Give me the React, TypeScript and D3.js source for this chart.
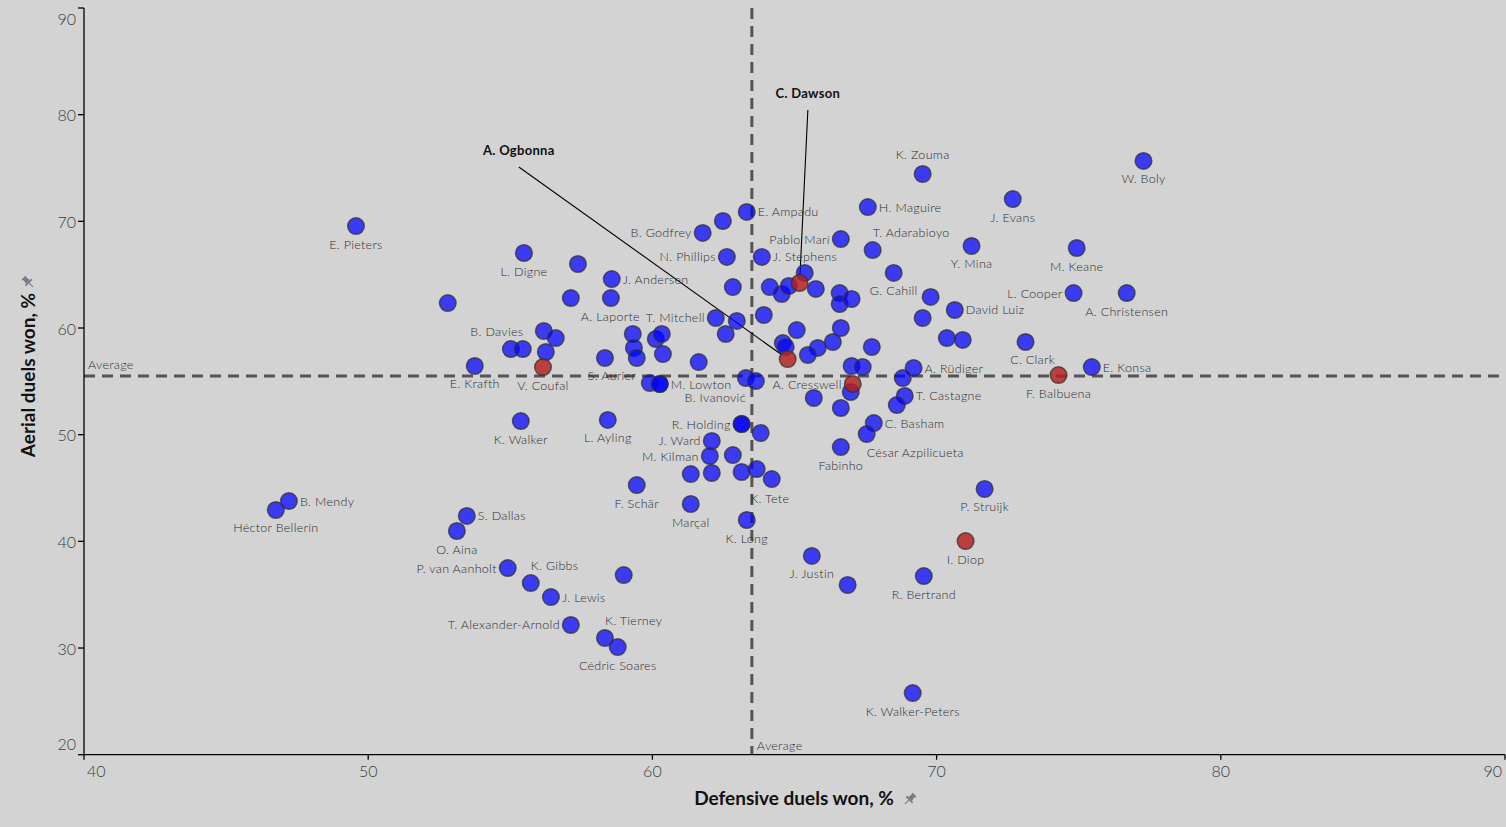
import React from "react";
import * as d3 from "d3";

// ---------- DATA ----------
const players: string[] = [
  "W. Boly", "K. Zouma", "J. Evans", "H. Maguire", "E. Pieters", "E. Ampadu", "", "B. Godfrey", "Pablo Marí", "T. Adarabioyo",
  "J. Stephens", "N. Phillips", "L. Digne", "Y. Mina", "M. Keane", "", "J. Andersen", "", "", "",
  "", "", "", "C. Dawson", "", "", "", "", "G. Cahill", "L. Cooper",
  "A. Christensen", "David Luiz", "", "", "", "", "", "T. Mitchell", "", "",
  "A. Laporte", "", "", "", "", "", "", "S. Aurier", "", "",
  "", "B. Davies", "", "V. Coufal", "E. Krafth", "", "", "", "", "",
  "", "", "A. Ogbonna", "", "", "", "C. Clark", "A. Rüdiger", "", "A. Cresswell",
  "", "", "", "T. Castagne", "", "C. Basham", "César Azpilicueta", "Fabinho", "F. Balbuena", "E. Konsa",
  "", "M. Lowton", "B. Ivanović", "", "R. Holding", "", "J. Ward", "M. Kilman", "", "",
  "", "", "", "K. Tete", "K. Long", "Marçal", "F. Schär", "L. Ayling", "K. Walker", "Héctor Bellerín",
  "B. Mendy", "S. Dallas", "O. Aina", "P. van Aanholt", "K. Gibbs", "J. Lewis", "", "T. Alexander-Arnold", "K. Tierney", "Cédric Soares",
  "P. Struijk", "I. Diop", "J. Justin", "", "R. Bertrand", "K. Walker-Peters", "", "", "", "",
];

const defensiveDuelsWon: number[] = [
  77.28, 69.51, 72.68, 67.58, 49.57, 63.32, 62.48, 61.77, 66.63, 67.75,
  63.85, 62.62, 55.48, 71.23, 74.93, 57.38, 58.57, 68.49, 62.83, 64.13,
  64.55, 64.80, 65.36, 65.18, 65.75, 66.59, 66.59, 67.01, 69.79, 74.82,
  76.69, 70.64, 69.51, 57.13, 58.54, 52.80, 63.92, 62.23, 62.97, 62.58,
  59.31, 59.35, 59.45, 60.12, 60.33, 60.37, 61.63, 58.33, 56.18, 56.60,
  56.25, 55.02, 55.44, 56.15, 53.75, 65.08, 66.63, 66.35, 65.82, 65.47,
  64.59, 64.69, 64.76, 67.01, 67.40, 67.72, 73.13, 69.19, 68.81, 67.05,
  66.98, 65.68, 66.63, 68.88, 68.60, 67.79, 67.54, 66.63, 74.29, 75.46,
  59.91, 60.26, 63.29, 63.64, 63.14, 63.81, 62.09, 62.02, 62.83, 61.35,
  62.09, 63.14, 63.67, 64.20, 63.32, 61.35, 59.45, 58.43, 55.37, 46.75,
  47.21, 53.47, 53.12, 54.91, 55.72, 56.43, 58.99, 57.13, 58.33, 58.78,
  71.69, 71.02, 65.61, 66.87, 69.55, 69.16, 70.36, 70.92, 60.26, 63.14,
];

const aerialDuelsWon: number[] = [
  75.66, 74.44, 72.09, 71.34, 69.56, 70.88, 70.03, 68.91, 68.34, 67.31,
  66.66, 66.66, 67.03, 67.69, 67.50, 66.00, 64.59, 65.16, 63.84, 63.84,
  63.19, 63.94, 65.16, 64.22, 63.66, 63.28, 62.25, 62.72, 62.91, 63.28,
  63.28, 61.69, 60.94, 62.81, 62.81, 62.34, 61.22, 60.94, 60.66, 59.44,
  59.44, 58.13, 57.19, 58.97, 59.44, 57.56, 56.81, 57.19, 59.72, 59.06,
  57.75, 58.03, 58.03, 56.34, 56.44, 59.81, 60.00, 58.69, 58.13, 57.47,
  58.59, 58.22, 57.09, 56.44, 56.34, 58.22, 58.69, 56.25, 55.31, 54.75,
  54.00, 53.44, 52.50, 53.63, 52.78, 51.09, 50.06, 48.84, 55.59, 56.34,
  54.84, 54.75, 55.31, 55.03, 51.00, 50.16, 49.41, 48.00, 48.09, 46.31,
  46.41, 46.50, 46.78, 45.84, 42.00, 43.50, 45.28, 51.38, 51.28, 42.94,
  43.78, 42.38, 40.97, 37.50, 36.09, 34.78, 36.84, 32.16, 30.94, 30.09,
  44.91, 40.03, 38.63, 35.91, 36.75, 25.78, 59.06, 58.88, 54.75, 51.00,
];

const highlighted: string[] = ["C. Dawson", "A. Ogbonna", "V. Coufal", "A. Cresswell", "F. Balbuena", "I. Diop"];
const callouts: string[] = ["C. Dawson", "A. Ogbonna"];
const calloutLabelX: number[] = [65.47, 55.3];
const calloutLabelY: number[] = [82.03, 76.69];

const xTicks: number[] = [40, 50, 60, 70, 80, 90];
const yTicks: number[] = [20, 30, 40, 50, 60, 70, 80, 90];
const avgDefensive = 63.5;
const avgAerial = 55.5;
const xTitle = "Defensive duels won, %";
const yTitle = "Aerial duels won, %";

// label placement (layout only): r=right, l=left, b=below, t=above, or [anchor, dx, dy]
type Place = string | [string, number, number];
const labelPlace: Record<string, Place> = {
  "W. Boly": "b", "K. Zouma": "t", "J. Evans": "b", "H. Maguire": "r", "E. Pieters": "b",
  "E. Ampadu": "r", "B. Godfrey": "l", "Pablo Marí": "l", "T. Adarabioyo": ["start", 0, -18],
  "J. Stephens": "r", "N. Phillips": "l", "L. Digne": "b", "Y. Mina": "b", "M. Keane": "b",
  "J. Andersen": "r", "G. Cahill": ["end", -13, -6], "L. Cooper": "l", "A. Christensen": "b",
  "David Luiz": "r", "T. Mitchell": "l", "A. Laporte": ["end", 7, -17], "S. Aurier": ["middle", 7, 18],
  "B. Davies": ["middle", -14, -18], "V. Coufal": "b", "E. Krafth": "b", "C. Clark": ["middle", 7, 18],
  "A. Rüdiger": "r", "A. Cresswell": "l", "T. Castagne": "r", "C. Basham": "r",
  "César Azpilicueta": ["start", 0, 18], "Fabinho": "b", "F. Balbuena": "b", "E. Konsa": "r",
  "M. Lowton": "r", "B. Ivanović": ["end", 0, 19], "R. Holding": "l", "J. Ward": "l", "M. Kilman": "l",
  "K. Tete": ["middle", -2, 19], "K. Long": "b", "Marçal": "b", "F. Schär": "b", "L. Ayling": "b",
  "K. Walker": "b", "Héctor Bellerín": "b", "B. Mendy": "r", "S. Dallas": "r", "O. Aina": "b",
  "P. van Aanholt": "l", "K. Gibbs": ["start", 0, -18], "J. Lewis": "r", "T. Alexander-Arnold": "l",
  "K. Tierney": ["start", 0, -18], "Cédric Soares": "b", "P. Struijk": "b", "I. Diop": "b",
  "J. Justin": "b", "R. Bertrand": "b", "K. Walker-Peters": "b",
};

// ---------- LAYOUT ----------
const W = 1506;
const H = 827;
const FONT = "Lato, 'DejaVu Sans', sans-serif";
const x = d3.scaleLinear().domain([40, 90]).range([84, 1505]);
const y = d3.scaleLinear().domain([20, 90]).range([754.7, 8]);
const R = 8.3;

function Pin({ cx, cy, rot = 45 }: { cx: number; cy: number; rot?: number }) {
  return (
    <g transform={`translate(${cx},${cy}) rotate(${rot}) scale(0.9)`} fill="#737a85">
      <rect x={-3} y={-7} width={6} height={2} />
      <polygon points="-2,-5 2,-5 3,0 -3,0" />
      <rect x={-5} y={0} width={10} height={1.8} />
      <rect x={-0.6} y={1.8} width={1.2} height={6} />
    </g>
  );
}

export default function App() {
  const pts = players.map((name, i) => ({
    name,
    dx: defensiveDuelsWon[i],
    ay: aerialDuelsWon[i],
    red: highlighted.includes(name),
  }));
  const ordered = [...pts.filter((p) => !p.red), ...pts.filter((p) => p.red)];

  const labels = pts
    .filter((p) => p.name && labelPlace[p.name])
    .map((p) => {
      const px = x(p.dx);
      const py = y(p.ay);
      const pl = labelPlace[p.name];
      let anchor = "middle";
      let lx = px;
      let ly = py;
      if (pl === "r") { anchor = "start"; lx = px + 11; ly = py; }
      else if (pl === "l") { anchor = "end"; lx = px - 11; ly = py; }
      else if (pl === "b") { lx = px; ly = py + 18; }
      else if (pl === "t") { lx = px; ly = py - 19; }
      else if (Array.isArray(pl)) { anchor = pl[0]; lx = px + pl[1]; ly = py + pl[2]; }
      return { name: p.name, lx, ly, anchor };
    });

  const dash = "11,7";

  return (
    <svg
      width={W}
      height={H}
      style={{ position: "absolute", left: 0, top: 0, display: "block", background: "#d3d3d3" }}
      fontFamily={FONT}
    >
      <rect x={0} y={0} width={W} height={H} fill="#d3d3d3" />

      {/* average lines */}
      <line x1={x(40)} x2={x(90)} y1={y(avgAerial)} y2={y(avgAerial)} stroke="#555" strokeWidth={3} strokeDasharray={dash} />
      <line x1={x(avgDefensive)} x2={x(avgDefensive)} y1={y(90)} y2={y(20)} stroke="#555" strokeWidth={3} strokeDasharray={dash} />
      <text x={x(40) + 4} y={y(avgAerial) - 7} fontSize={12.5} fontWeight={300} letterSpacing={0.3} fill="#333">Average</text>
      <text x={x(avgDefensive) + 5} y={y(20) - 5} fontSize={12.5} fontWeight={300} letterSpacing={0.3} fill="#333">Average</text>

      {/* axes */}
      <line x1={x(40)} x2={x(40)} y1={y(90)} y2={y(20)} stroke="#000" strokeWidth={1.3} />
      <line x1={x(40) - 0.6} x2={x(90)} y1={y(20)} y2={y(20)} stroke="#000" strokeWidth={1.3} />
      {yTicks.map((t, i) => (
        <g key={`yt${t}`}>
          <line x1={x(40) - 6} x2={x(40)} y1={y(t)} y2={y(t)} stroke="#000" strokeWidth={1.3} />
          <text
            x={x(40) - 8}
            y={y(t) + (i === 0 ? -11 : i === yTicks.length - 1 ? 10 : 0)}
            textAnchor="end"
            dominantBaseline="central"
            fontSize={16}
            fontWeight={300}
            fill="#3d3d3d"
          >
            {t}
          </text>
        </g>
      ))}
      {xTicks.map((t, i) => (
        <g key={`xt${t}`}>
          <line x1={x(t)} x2={x(t)} y1={y(20)} y2={y(20) + 5} stroke="#000" strokeWidth={1.3} />
          <text
            x={x(t) + (i === 0 ? 3 : i === xTicks.length - 1 ? -3 : 0)}
            y={y(20) + 22}
            textAnchor={i === 0 ? "start" : i === xTicks.length - 1 ? "end" : "middle"}
            fontSize={16}
            fontWeight={300}
            fill="#3d3d3d"
          >
            {t}
          </text>
        </g>
      ))}

      {/* axis titles */}
      <text x={794} y={805} textAnchor="middle" fontSize={19} fontWeight="bold" fill="#111">{xTitle}</text>
      <Pin cx={910} cy={799} />
      <text
        transform={`translate(35,375) rotate(-90)`}
        textAnchor="middle"
        fontSize={19}
        fontWeight="bold"
        fill="#111"
      >
        {yTitle}
      </text>
      <Pin cx={28} cy={282} rot={-45} />

      {/* callout lines */}
      {callouts.map((name, i) => {
        const p = pts.find((q) => q.name === name)!;
        const lx = x(calloutLabelX[i]);
        const ly = y(calloutLabelY[i]) + 17;
        const px = x(p.dx);
        const py = y(p.ay);
        const ang = Math.atan2(py - ly, px - lx);
        return (
          <line key={`cl${name}`} x1={lx} y1={ly} x2={px - Math.cos(ang) * (R - 1)} y2={py - Math.sin(ang) * (R - 1)} stroke="#000" strokeWidth={1.1} />
        );
      })}

      {/* dots */}
      {ordered.map((p, i) => (
        <circle
          key={`pt${i}`}
          cx={x(p.dx)}
          cy={y(p.ay)}
          r={R}
          fill={p.red ? "#b3201f" : "#0000ff"}
          fillOpacity={p.red ? 0.82 : 0.72}
          stroke="#333"
          strokeOpacity={0.75}
          strokeWidth={1.5}
        />
      ))}

      {/* labels */}
      {labels.map((l) => (
        <text key={`lb${l.name}`} x={l.lx} y={l.ly} textAnchor={l.anchor} dominantBaseline="central" fontSize={12.5} fontWeight={300} letterSpacing={0.3} fill="#2e2e2e">
          {l.name}
        </text>
      ))}

      {/* callout labels */}
      {callouts.map((name, i) => (
        <text
          key={`ct${name}`}
          x={x(calloutLabelX[i])}
          y={y(calloutLabelY[i])}
          textAnchor="middle"
          dominantBaseline="central"
          fontSize={13}
          fontWeight="bold"
          letterSpacing={0.3}
          fill="#111"
        >
          {name}
        </text>
      ))}
    </svg>
  );
}
